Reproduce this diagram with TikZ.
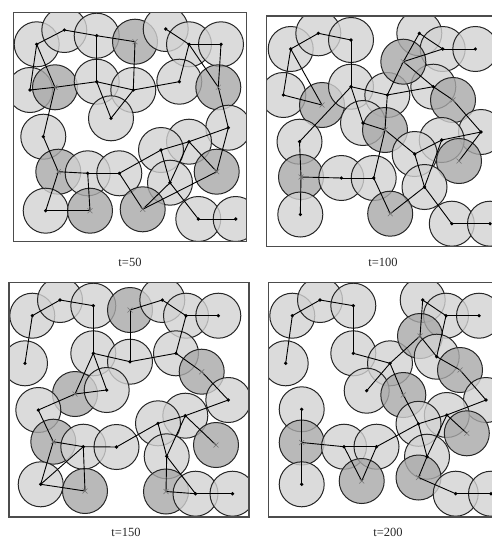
\documentclass[tikz,border=0pt]{standalone}
\usepackage{fontspec}
\setmainfont{Liberation Serif}

\begin{document}
\begin{tikzpicture}[x=1pt,y=-1pt,
  cell/.style={fill=gray!35,fill opacity=0.8,draw=black!85,line width=1pt},
  hub/.style={fill=gray!68,fill opacity=0.8,draw=black!85,line width=1pt},
  link/.style={line width=0.9pt},
  xmark/.style={draw=black!55,line width=0.5pt},
  frame/.style={draw=black!70,line width=1.3pt},
  stamp/.style={font=\fontsize{12.5}{14}\selectfont,text=black!85,inner sep=0pt}]
  \useasboundingbox(0,0)rectangle(491,538);
  % t=50
  \begin{scope}
    \clip(13.5,12.7)rectangle(246.5,241.7);
    \foreach \n/\x/\y/\s in {a/36.7/44.3/cell,b/64.3/30/cell,c/96.7/35.7/cell,d/135/41.7/hub,
      e/165.7/29/cell,f/189/44.3/cell,g/221/44.3/cell,h/30/90/cell,i/55/87.3/hub,j/96.7/81.7/cell,
      k/133.3/90/cell,l/111/118.3/cell,m/179.3/81.7/cell,n/218.3/87.3/hub,o/43.3/136.7/cell,
      p/228.3/127.7/cell,q/189/141.7/cell,r/161/150/cell,s/58.3/171.7/hub,t/87.7/173.3/cell,
      u/119.3/173.3/cell,v/216.7/171.7/hub,w/170/182.7/cell,x/45.7/210.7/cell,y/90/210.7/hub,
      z/142.7/209.3/hub,aa/198.3/219/cell,ab/235.7/219/cell}{
      \coordinate(p1\n)at(\x,\y);
      \path[\s](p1\n)circle(22.5pt);
    }
  \end{scope}
  \foreach \u/\v in {a/b,b/c,c/d,c/j,d/k,a/h,a/i,h/i,i/o,i/j,j/k,j/l,l/k,k/m,m/f,e/f,f/g,g/n,f/n,
    n/p,p/q,q/r,p/v,q/v,q/w,r/w,r/u,t/u,s/t,o/s,s/x,t/y,x/y,w/z,u/z,z/v,w/aa,aa/ab}
    \draw[link](p1\u)--(p1\v);
  \foreach \n in {a,b,c,e,f,g,h,j,k,l,m,o,p,q,r,t,u,w,x,aa,ab}
    \fill(p1\n)circle(1.8pt);
  \foreach \n in {d,i,n,s,v,y,z}
    \draw[xmark](p1\n)+(-2.5,-2.5)--+(2.5,2.5)+(-2.5,2.5)--+(2.5,-2.5);
  \draw[frame](13.5,12.7)rectangle(246.5,241.7);
  \node[stamp](lab1)at(130,262){t=50};

  % t=100
  \begin{scope}
    \clip(266.7,16)rectangle(500,246.7);
    \foreach \n/\x/\y/\s in {a/290.7/49/cell,b/318.3/33.3/cell,c/351/40/cell,d/419.3/33.3/cell,
      e/442.7/49/cell,f/475.3/49/cell,g/283.3/95/cell,h/322/105/hub,i/351/86.7/cell,
      j/387.3/95/cell,k/433.3/86.7/cell,l/453/100/hub,m/403.3/61.7/hub,n/299.5/141.7/cell,
      p/363/123/cell,o/385/130/hub,q/481/132/cell,r/441.7/140/cell,s/414.7/154/cell,
      t/459/161/hub,u/301/177/hub,v/341.3/178/cell,w/373.7/178/cell,x/424.5/187/cell,
      y/390.2/213.7/hub,z/300.3/214.5/cell,aa/451.8/223.7/cell,ab/490/223.7/cell}{
      \coordinate(p2\n)at(\x,\y);
      \path[\s](p2\n)circle(22.5pt);
    }
  \end{scope}
  \foreach \u/\v in {a/b,b/c,a/g,g/h,a/h,c/i,i/j,i/p,p/o,j/o,n/i,n/u,u/z,u/v,v/w,w/o,w/y,y/x,
    x/s,o/s,s/r,r/q,l/q,x/r,q/t,k/l,j/k,d/m,m/j,e/m,m/k,d/e,e/f,x/aa,aa/ab}
    \draw[link](p2\u)--(p2\v);
  \foreach \n in {a,b,c,d,e,f,g,i,j,k,n,p,q,r,s,v,w,x,z,aa,ab}
    \fill(p2\n)circle(1.8pt);
  \foreach \n in {h,l,m,o,t,u,y}
    \draw[xmark](p2\n)+(-2.5,-2.5)--+(2.5,2.5)+(-2.5,2.5)--+(2.5,-2.5);
  \draw[frame](266.7,16)rectangle(500,246.7);
  \node[stamp](lab2)at(383,262){t=100};

  % t=150
  \begin{scope}
    \clip(9,282.7)rectangle(249,517);
    \foreach \n/\x/\y/\s in {a/32.3/315.7/cell,b/60/300/cell,c/93.3/305.7/cell,d/130/310/hub,
      e/162.3/300/cell,f/186/315.7/cell,g/218.3/315.7/cell,h/25/363.3/cell,j/93.3/353.3/cell,
      k/130/361.7/cell,m/176/353.3/cell,n/201.7/371.7/hub,i/75/394/hub,l/106.7/390/cell,
      o/38.3/410/cell,p/228.3/400/cell,q/185.3/415.7/cell,r/158/423.3/cell,s/53.3/441.7/hub,
      t/83.3/446.7/cell,u/116.5/447/cell,v/216/445/hub,w/166.7/456.3/cell,x/40.7/484.3/cell,
      y/85/491/hub,z/166/491.5/hub,aa/195.5/493.7/cell,ab/232.5/493.7/cell}{
      \coordinate(p3\n)at(\x,\y);
      \path[\s](p3\n)circle(22.5pt);
    }
  \end{scope}
  \foreach \u/\v in {a/b,b/c,a/h,c/j,j/k,k/d,d/e,e/f,f/g,f/m,k/m,m/n,n/p,j/l,j/i,i/l,i/o,o/s,
    s/t,t/u,t/y,x/y,x/s,x/t,u/r,r/q,q/p,q/v,q/w,r/w,w/z,z/aa,aa/ab,w/aa}
    \draw[link](p3\u)--(p3\v);
  \foreach \n in {a,b,c,e,f,g,h,j,k,m,l,o,p,q,r,t,u,w,x,aa,ab}
    \fill(p3\n)circle(1.8pt);
  \foreach \n in {d,n,i,s,v,y,z}
    \draw[xmark](p3\n)+(-2.5,-2.5)--+(2.5,2.5)+(-2.5,2.5)--+(2.5,-2.5);
  \draw[frame](9,282.7)rectangle(249,517);
  \node[stamp](lab3)at(126,532){t=150};

  % t=200
  \begin{scope}
    \clip(268.3,282.7)rectangle(500,517);
    \foreach \n/\x/\y/\s in {a/292.3/315.7/cell,b/320/300/cell,c/353.3/305.7/cell,
      d/422.7/300/cell,e/446/315.7/cell,f/479/315.7/cell,g/285.7/363.3/cell,h/353.3/353.3/cell,
      i/390/363.3/cell,j/366.7/390.7/cell,k/420/336/hub,l/436.7/356.7/cell,m/460/370/hub,
      n/403.3/395/hub,o/301.7/409.3/cell,p/486/400/cell,q/446.8/415/cell,r/418.5/423.8/cell,
      s/301.7/442.5/hub,t/344/446.7/cell,u/376.5/446.7/cell,v/466.8/433.3/hub,w/427/456.7/cell,
      x/301.7/484.3/cell,y/361.7/481/hub,z/418.5/477.5/hub,aa/455.7/493.7/cell,ab/491/493.7/cell}{
      \coordinate(p4\n)at(\x,\y);
      \path[\s](p4\n)circle(22.5pt);
    }
  \end{scope}
  \foreach \u/\v in {a/b,b/c,a/g,c/h,h/i,i/j,i/k,k/d,d/e,e/f,e/l,k/l,l/m,m/p,i/n,n/r,r/w,u/r,
    r/q,q/p,q/v,q/w,w/z,z/aa,aa/ab,t/u,s/t,o/s,s/x,t/y,y/u}
    \draw[link](p4\u)--(p4\v);
  \foreach \n in {a,b,c,d,e,f,g,h,i,j,l,o,p,q,r,t,u,w,x,aa,ab}
    \fill(p4\n)circle(1.8pt);
  \foreach \n in {k,m,n,s,v,y,z}
    \draw[xmark](p4\n)+(-2.5,-2.5)--+(2.5,2.5)+(-2.5,2.5)--+(2.5,-2.5);
  \draw[frame](268.3,282.7)rectangle(500,517);
  \node[stamp](lab4)at(388,532){t=200};
\end{tikzpicture}
\end{document}
